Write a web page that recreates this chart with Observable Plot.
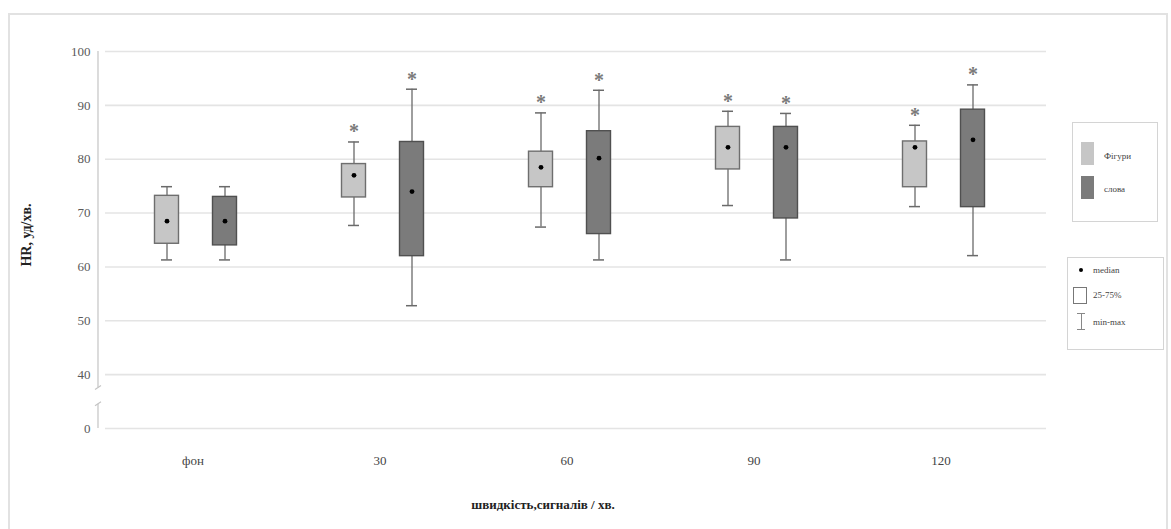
<!DOCTYPE html>
<html><head><meta charset="utf-8">
<script src="https://cdn.jsdelivr.net/npm/d3@7"></script>
<script src="https://cdn.jsdelivr.net/npm/@observablehq/plot@0.6"></script>
<style>
body{margin:0;background:#fff;font-family:"Liberation Serif","DejaVu Serif",serif;}
#wrap{position:relative;width:1171px;height:529px;overflow:hidden;background:#fff;}
#chart{position:absolute;left:0;top:0;}
.border{position:absolute;left:8px;top:13px;width:1160px;height:530px;border:2px solid #e2e2e2;box-sizing:border-box;}
.ytitle{position:absolute;left:27px;top:235px;transform:translate(-50%,-50%) rotate(-90deg);font-weight:bold;font-size:14px;color:#222;white-space:nowrap;}
.xtitle{position:absolute;left:543px;top:505px;transform:translate(-50%,-50%);font-weight:bold;font-size:13px;color:#222;white-space:nowrap;}
.lg{position:absolute;border:1px solid #d4d4d4;background:#fff;}
.lt{position:absolute;font-size:9px;color:#444;white-space:nowrap;transform:translateY(-50%);}
.sw{position:absolute;}
</style></head><body>
<div id="wrap">
<div id="chart"></div>
<div class="ytitle">HR, уд/хв.</div>
<div class="xtitle">швидкість,сигналів / хв.</div>
<div class="lg" style="left:1072px;top:122px;width:84px;height:98px;"></div>
<div class="sw" style="left:1081px;top:142px;width:13px;height:23px;background:#c6c6c6;"></div>
<div class="lt" style="left:1104px;top:156px;" id="lg0"></div>
<div class="sw" style="left:1081px;top:176px;width:13px;height:23px;background:#7b7b7b;"></div>
<div class="lt" style="left:1104px;top:189px;" id="lg1"></div>
<div class="lg" style="left:1067px;top:257px;width:95px;height:91px;"></div>
<div class="sw" style="left:1079px;top:268px;width:4px;height:4px;border-radius:50%;background:#000;"></div>
<div class="lt" style="left:1093px;top:270px;">median</div>
<div class="sw" style="left:1073px;top:287px;width:12px;height:15px;border:1px solid #777;background:#fff;"></div>
<div class="lt" style="left:1093px;top:295px;">25-75%</div>
<div class="sw" style="left:1080.5px;top:313px;width:1px;height:17px;background:#888;"></div>
<div class="sw" style="left:1077px;top:313px;width:8px;height:1px;background:#888;"></div>
<div class="sw" style="left:1077px;top:329px;width:8px;height:1px;background:#888;"></div>
<div class="lt" style="left:1093px;top:322px;">min-max</div>
<div class="border"></div>
</div>
<script>
const categories = ["фон", "30", "60", "90", "120"];
const groups = ["Фігури", "слова"];
const figMin = [61.3, 67.7, 67.4, 71.4, 71.2];
const figQ1  = [64.3, 72.9, 74.8, 78.1, 74.8];
const figMed = [68.5, 77.0, 78.5, 82.2, 82.2];
const figQ3  = [73.2, 79.1, 81.4, 86.0, 83.3];
const figMax = [74.9, 83.2, 88.6, 88.9, 86.3];
const figSig = [false, true, true, true, true];
const slMin = [61.3, 52.8, 61.3, 61.3, 62.1];
const slQ1  = [64.0, 62.0, 66.1, 69.0, 71.1];
const slMed = [68.5, 74.0, 80.2, 82.2, 83.6];
const slQ3  = [73.0, 83.2, 85.2, 86.0, 89.2];
const slMax = [74.9, 93.0, 92.8, 88.5, 93.8];
const slSig = [false, true, true, true, true];
const yTickValues = [0, 40, 50, 60, 70, 80, 90, 100];
const axisBreak = [18, 30];

document.getElementById("lg0").textContent = groups[0];
document.getElementById("lg1").textContent = groups[1];

// broken y axis: 0..40 compressed to one step
const brk = v => v >= 40 ? v - 30 : v / 4;
const tickLabel = new Map(yTickValues.map(v => [brk(v), String(v)]));

function rows(mins, q1s, meds, q3s, maxs, sigs, group) {
  return categories.map((c, i) => ({
    cat: c, group,
    min: brk(mins[i]), q1: brk(q1s[i]), med: brk(meds[i]),
    q3: brk(q3s[i]), max: brk(maxs[i]), sig: sigs[i]
  }));
}
const fig = rows(figMin, figQ1, figMed, figQ3, figMax, figSig, groups[0]);
const sl = rows(slMin, slQ1, slMed, slQ3, slMax, slSig, groups[1]);

const styles = [
  {data: fig, dx: -26, fill: "#c6c6c6", stroke: "#6e6e6e"},
  {data: sl, dx: 32, fill: "#7b7b7b", stroke: "#505050"}
];

function yAxisLine(index, scales, values, dims) {
  const x = dims.marginLeft;
  const y = scales.y;
  const g = d3.create("svg:g").attr("stroke", "#c4c4c4").attr("stroke-width", 1.2).attr("fill", "none");
  const b0 = y(brk(axisBreak[1])), b1 = y(brk(axisBreak[0]));
  g.append("line").attr("x1", x).attr("x2", x).attr("y1", y(brk(100))).attr("y2", b0);
  g.append("line").attr("x1", x).attr("x2", x).attr("y1", b1).attr("y2", y(0));
  g.append("line").attr("x1", x - 3).attr("x2", x + 3).attr("y1", b0 + 2).attr("y2", b0 - 2);
  g.append("line").attr("x1", x - 3).attr("x2", x + 3).attr("y1", b1 + 2).attr("y2", b1 - 2);
  return g.node();
}

const marks = [
  Plot.ruleY(yTickValues.map(brk), {stroke: "#e4e4e4", strokeWidth: 1.6, insetLeft: 7}),
  Plot.axisY({ticks: yTickValues.map(brk), tickFormat: d => tickLabel.get(d), tickSize: 0, tickPadding: 8,
    fontSize: 13, fill: "#5a5a5a", label: null}),
  Plot.axisX({tickSize: 0, tickPadding: 27, fontSize: 13, fill: "#444", label: null}),
  yAxisLine
];
for (const s of styles) {
  marks.push(
    Plot.ruleX(s.data, {x: "cat", y1: "min", y2: "max", dx: s.dx, stroke: "#6a6a6a", strokeWidth: 1.3}),
    Plot.tickY(s.data, {x: "cat", y: "min", dx: s.dx, stroke: "#6a6a6a", strokeWidth: 1.5, insetLeft: 88, insetRight: 88}),
    Plot.tickY(s.data, {x: "cat", y: "max", dx: s.dx, stroke: "#6a6a6a", strokeWidth: 1.5, insetLeft: 88, insetRight: 88}),
    Plot.barY(s.data, {x: "cat", y1: "q1", y2: "q3", dx: s.dx, fill: s.fill, stroke: s.stroke, strokeWidth: 1.4,
      insetLeft: 81.5, insetRight: 81.5}),
    Plot.dot(s.data, {x: "cat", y: "med", dx: s.dx, r: 2.4, fill: "#000", stroke: "none"}),
    Plot.text(s.data.filter(d => d.sig), {x: "cat", y: "max", dx: s.dx, dy: -10, text: () => "*",
      fontSize: 20, fill: "#7a7a7a", fontWeight: "bold", lineAnchor: "middle"})
  );
}

const chart = Plot.plot({
  width: 1171,
  height: 529,
  marginLeft: 98,
  marginRight: 125,
  marginTop: 51,
  marginBottom: 101,
  style: {background: "transparent", fontFamily: "'Liberation Serif', serif"},
  x: {type: "band", domain: categories, range: [97, 1036], padding: 0, axis: null},
  y: {domain: [0, brk(100)], axis: null},
  marks
});
document.getElementById("chart").appendChild(chart);
</script>
</body></html>
